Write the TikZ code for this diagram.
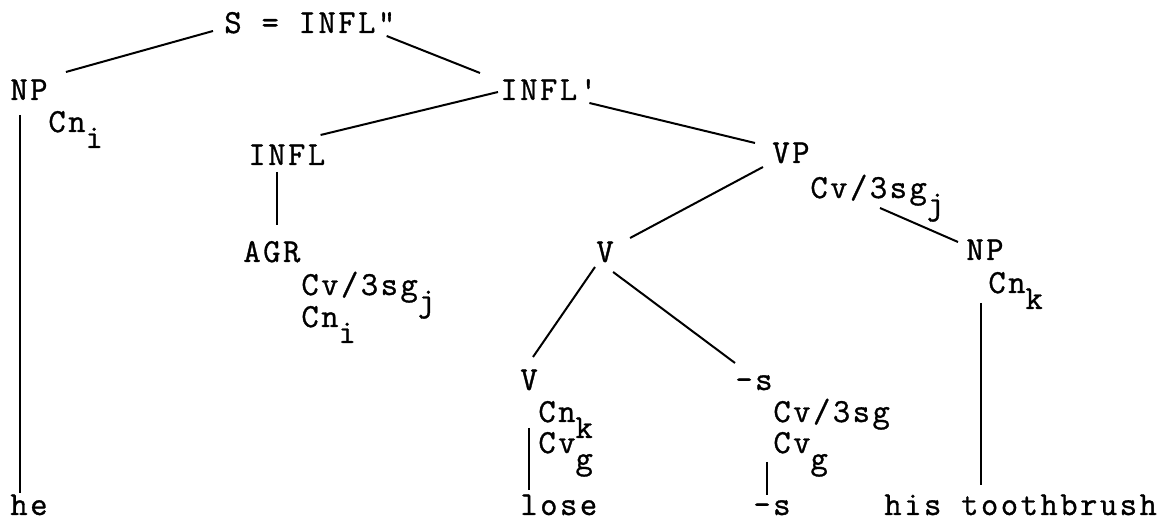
\documentclass[tikz,border=0pt]{standalone}
\usepackage{fontspec}
\setmonofont{Latin Modern Mono}[LetterSpace=7.5,FakeBold=1]
\newcommand{\lowidx}[1]{\raisebox{-8pt}[0pt][0pt]{#1}}

\begin{document}
\begin{tikzpicture}[x=0.5pt,y=-0.5pt]
        \tikzstyle{cat}=[anchor=base west,inner sep=0pt,font=\fontsize{16.8pt}{19pt}\ttfamily]
        \tikzstyle{branch}=[draw,line width=1pt]
        \useasboundingbox (0,0) rectangle (1164,522);
       \begin{scope}
         % categories
         \node [cat] (S) at (224,33) {S = INFL"};
         \node [cat] (NPa) at (10,100) {NP};
         \node [cat] (INFLb) at (500,100) {INFL'};
         \node [cat] (INFL) at (248,165) {INFL};
         \node [cat] (VP) at (772,163) {VP};
         \node [cat] (AGR) at (243,262) {AGR};
         \node [cat] (Vm) at (596,262) {V};
         \node [cat] (NPb) at (966,260) {NP};
         \node [cat] (Vl) at (520,390) {V};
         \node [cat] (Sa) at (735,390) {-s};
         % features
         \node [cat] (cnI) at (48,132) {Cn\lowidx{i}};
         \node [cat] (cvVP) at (810,198) {Cv/3sg\lowidx{j}};
         \node [cat] (cvAGR) at (301,295) {Cv/3sg\lowidx{j}};
         \node [cat] (cnAGR) at (301,327) {Cn\lowidx{i}};
         \node [cat] (cnK) at (988,293) {Cn\lowidx{k}};
         \node [cat] (cnVl) at (538,422) {Cn\lowidx{k}};
         \node [cat] (cvVl) at (538,453) {Cv\lowidx{g}};
         \node [cat] (cvSa) at (773,422) {Cv/3sg};
         \node [cat] (cvgSa) at (773,453) {Cv\lowidx{g}};
         % words
         \node [cat] (he) at (10,515) {he};
         \node [cat] (lose) at (520,515) {lose};
         \node [cat] (Sb) at (753,515) {-s};
         \node [cat] (brush) at (884,515) {his toothbrush};
         % branches
         \path[branch] ([shift={(18,-28)}]NPa.base east) edge ([shift={(-11,-2)}]S.base west);
         \path[branch] ([shift={(-9,3)}]S.base east) edge ([shift={(-20,-27)}]INFLb.base west);
         \path[branch] ([shift={(-2,-8)}]INFLb.base west) edge ([shift={(-5,-30)}]INFL.base east);
         \path[branch] ([shift={(-8,3)}]INFLb.base east) edge ([shift={(-17,-20)}]VP.base west);
         \path[branch] ([shift={(29,7)}]INFL.base west) edge ([shift={(34,-37)}]AGR.base west);
         \path[branch] ([shift={(-9,4)}]VP.base west) edge ([shift={(16,-24)}]Vm.base east);
         \path[branch] ([shift={(70,10)}]cvVP.base west) edge ([shift={(-8,-18)}]NPb.base west);
         \path[branch] ([shift={(-1,5)}]Vm.base west) edge ([shift={(13,-33)}]Vl.base west);
         \path[branch] ([shift={(-1,10)}]Vm.base east) edge ([shift={(0,-27)}]Sa.base west);
         \path[branch] ([shift={(10,15)}]NPa.base west) edge ([shift={(10,-22)}]he.base west);
         \path[branch] ([shift={(9,38)}]Vl.base west) edge ([shift={(9,-25)}]lose.base west);
         \path[branch] ([shift={(32,72)}]Sa.base west) edge ([shift={(14,-20)}]Sb.base west);
         \path[branch] ([shift={(15,43)}]NPb.base west) edge ([shift={(97,-30)}]brush.base west);
        \end{scope}
      \end{tikzpicture}
\end{document}
